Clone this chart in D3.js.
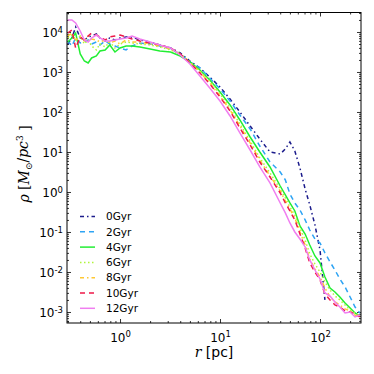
<!DOCTYPE html>
<html>
<head>
<meta charset="utf-8">
<script src="https://cdn.jsdelivr.net/npm/d3@7"></script>
<style>
	body { margin: 0; background: #fff; }
	text { font-family: "DejaVu Sans", sans-serif; fill: #000; }
</style>
</head>
<body>
<div id="chart"></div>
<script>
// radius bins shared by every snapshot (pc)
const radius = [0.30, 0.33, 0.36, 0.40, 0.44, 0.48, 0.52, 0.58, 0.63, 0.71,
	0.79, 0.89, 1.0, 1.15, 1.32, 1.58, 2.0, 2.5, 3.2, 4.0,
	5.0, 6.3, 7.9, 10, 12.6, 15.8, 20, 25, 31.6, 40,
	45, 50, 56, 63, 71, 79, 89, 100, 112, 126,
	141, 158, 178, 200, 224, 250];

// density (Msun/pc^3)
const rho0Gyr = [5010, 7080, 13300, 7080, 6310, 7500, 7940, 8910, 7080, 5960,
	7080, 6310, 7080, 7500, 7500, 6310, 5620, 4730, 3980, 2990,
	1880, 1260, 750, 422, 211, 100, 44.7, 21.1, 10, 8.91,
	11.9, 17.8, 10.6, 3.98, 1.19, 0.473, 0.150, 0.0355, 0.002, null,
	null, null, null, null, null, null];
const rho2Gyr = [5960, 4470, 7080, 5310, 5620, 6310, 5010, 5620, 4730, 5960,
	5010, 4470, 3980, 3550, 4470, 5310, 5010, 4470, 3760, 2820,
	1780, 1260, 708, 376, 188, 84.1, 37.6, 14.1, 5.62, 3.16,
	2.00, 0.891, 0.531, 0.355, 0.200, 0.112, 0.0668, 0.0531, 0.0299, 0.0178,
	0.0112, 0.00668, 0.00422, 0.00237, 0.00133, 0.000944];
const rho4Gyr = [5620, 7080, 9440, 2820, 1880, 1680, 2240, 2510, 3350, 3550,
	4730, 3160, 3980, 4470, 4470, 4220, 3760, 3350, 3160, 2510,
	1780, 1120, 631, 316, 150, 63.1, 23.7, 10, 4.22, 1.41,
	0.841, 0.531, 0.335, 0.141, 0.0891, 0.0473, 0.0251, 0.0168, 0.0075, 0.00398,
	0.00316, 0.00237, 0.00168, 0.00126, 0.000944, 0.000794];
const rho6Gyr = [7080, 8410, 6310, 7940, 5010, 6310, 4470, 3550, 5010, 4220,
	5620, 3980, 5010, 5620, 5310, 5010, 4730, 4220, 3550, 2820,
	1780, 1060, 596, 282, 126, 50.1, 18.8, 7.08, 2.99, 1.19,
	0.708, 0.422, 0.266, 0.126, 0.0631, 0.0282, 0.0158, 0.01, 0.00562, 0.00355,
	0.00251, 0.002, 0.0015, 0.00112, 0.000944, 0.000794];
const rho8Gyr = [7940, 9440, 6310, 7500, 5960, 7940, 6680, 6310, 5620, 6310,
	5310, 5960, 5010, 6310, 5620, 5620, 5010, 4470, 3760, 2820,
	1680, 1000, 531, 251, 112, 44.7, 16.8, 6.31, 2.51, 1.06,
	0.596, 0.376, 0.224, 0.1, 0.0473, 0.0211, 0.0119, 0.0075, 0.00398, 0.00237,
	0.00178, 0.0015, 0.00119, 0.00106, 0.000841, 0.00075];
const rho10Gyr = [9440, 11200, 3980, 7500, 6310, 7940, 9440, 8410, 7500, 6310,
	7500, 7940, 8410, 7500, 6680, 5960, 5310, 4730, 3980, 2820,
	1680, 944, 501, 237, 106, 39.8, 15.0, 5.62, 2.37, 0.944,
	0.531, 0.335, 0.2, 0.0891, 0.0398, 0.0168, 0.01, 0.00631, 0.00282, 0.002,
	0.0015, 0.00133, 0.00106, 0.001, 0.00089, 0.00075];
const rho12Gyr = [20000, 20000, 16800, 10600, 6310, 5620, 7080, 8410, 7080, 5960,
	5960, 6310, 6680, 7080, 7940, 6680, 5620, 4730, 3980, 2660,
	1580, 794, 398, 188, 79.4, 29.9, 11.2, 4.22, 1.68, 0.531,
	0.299, 0.168, 0.1, 0.0668, 0.0422, 0.02, 0.0112, 0.00668, 0.00299, 0.00251,
	0.00178, 0.00133, 0.000944, 0.001, 0.00075, 0.000841];

const seriesNames = ["0Gyr", "2Gyr", "4Gyr", "6Gyr", "8Gyr", "10Gyr", "12Gyr"];
const seriesValues = [rho0Gyr, rho2Gyr, rho4Gyr, rho6Gyr, rho8Gyr, rho10Gyr, rho12Gyr];
const seriesColors = ["#1c1c8c", "#2ea4f4", "#22ee33", "#b0f53a", "#ffc833", "#ee1848", "#f07ef0"];
const seriesDash = ["4,3,1.5,3", "5,4", null, "1.5,2.5", "4,3,1.5,3", "5,4", null];

const xMajor = [1, 10, 100];
const yMajor = [1e-3, 1e-2, 1e-1, 1, 10, 100, 1e3, 1e4];

const W = 374, H = 374,
	margin = {top: 12.5, right: 13, bottom: 51, left: 67},
	width = W - margin.left - margin.right,
	height = H - margin.top - margin.bottom;

const x = d3.scaleLog().domain([0.295, 257]).range([0, width]);
const y = d3.scaleLog().domain([5.3e-4, 3.07e4]).range([height, 0]);

const svg = d3.select("#chart").append("svg")
	.attr("width", W)
	.attr("height", H);

const chart = svg.append("g")
	.attr("transform", "translate(" + margin.left + "," + margin.top + ")");

chart.append("clipPath").attr("id", "clip")
	.append("rect").attr("width", width).attr("height", height);

// minor ticks = all log ticks that are not powers of ten
const xMinor = x.ticks().filter(d => xMajor.indexOf(d) < 0);
const yMinor = y.ticks().filter(d => !yMajor.some(m => Math.abs(m - d) / m < 1e-6));

function supLabel(sel) {
	// turn the tick text into 10 with a raised exponent
	sel.each(function (d) {
		const e = Math.round(Math.log10(d));
		const t = d3.select(this).text("10");
		t.append("tspan").attr("dy", "-0.5em").style("font-size", "8.5px").text(e);
	});
}

function axisPair(gen, cls, transform, major, minor, labels) {
	const gMaj = chart.append("g").attr("class", cls).attr("transform", transform)
		.call(gen.tickValues(major).tickSizeInner(-4).tickSizeOuter(0).tickPadding(6));
	const gMin = chart.append("g").attr("class", cls).attr("transform", transform)
		.call(gen.tickValues(minor).tickSizeInner(-2).tickSizeOuter(0).tickFormat(""));
	gMin.selectAll("text").remove();
	[gMaj, gMin].forEach(g => {
		g.select(".domain").remove();
		g.selectAll(".tick line").attr("stroke", "#000").attr("stroke-width", 0.8);
	});
	if (labels) {
		gMaj.selectAll("text").style("font-size", "12px").call(supLabel);
	} else {
		gMaj.selectAll("text").remove();
	}
	return gMaj;
}

const xb = axisPair(d3.axisBottom(x), "xaxis", "translate(0," + height + ")", xMajor, xMinor, true);
xb.selectAll("text").attr("dy", "1.05em");
axisPair(d3.axisTop(x), "xaxis-top", "translate(0,0)", xMajor, xMinor, false);
const yl = axisPair(d3.axisLeft(y), "yaxis", "translate(0,0)", yMajor, yMinor, true);
yl.selectAll("text").attr("dy", "0.4em").attr("x", -4);
axisPair(d3.axisRight(y), "yaxis-right", "translate(" + width + ",0)", yMajor, yMinor, false);

// profiles
const line = d3.line()
	.defined(d => d[1] != null)
	.x(d => x(d[0]))
	.y(d => y(d[1]));

const plot = chart.append("g").attr("clip-path", "url(#clip)");
seriesValues.forEach((vals, i) => {
	plot.append("path")
		.datum(radius.map((r, k) => [r, vals[k]]))
		.attr("fill", "none")
		.attr("stroke", seriesColors[i])
		.attr("stroke-width", 1.5)
		.attr("stroke-dasharray", seriesDash[i])
		.attr("d", line);
});

// frame
chart.append("rect")
	.attr("width", width).attr("height", height)
	.attr("fill", "none").attr("stroke", "#000").attr("stroke-width", 1);

// legend
const legend = chart.append("g").attr("transform", "translate(13,204)");
seriesNames.forEach((name, i) => {
	const row = legend.append("g").attr("transform", "translate(0," + (i * 15.3) + ")");
	row.append("line")
		.attr("x1", 0).attr("x2", 15)
		.attr("stroke", seriesColors[i])
		.attr("stroke-width", 1.5)
		.attr("stroke-dasharray", seriesDash[i]);
	row.append("text").attr("x", 26).attr("dy", "0.36em")
		.style("font-size", "10.5px").text(name);
});

// axis titles
const serif = "'DejaVu Serif', serif";
const xt = svg.append("text")
	.attr("x", margin.left + width / 2).attr("y", 357)
	.attr("text-anchor", "middle").style("font-size", "14px");
xt.append("tspan").style("font-family", serif).style("font-style", "italic").text("r");
xt.append("tspan").text(" [pc]");

const yt = svg.append("text")
	.attr("transform", "translate(29,164) rotate(-90)")
	.attr("text-anchor", "middle").style("font-size", "14px")
	.style("font-family", serif);
yt.append("tspan").style("font-style", "italic").text("ρ");
yt.append("tspan").text(" [");
yt.append("tspan").style("font-style", "italic").text("M");
yt.append("tspan").attr("dy", "0.3em").style("font-size", "9px").text("⊙");
yt.append("tspan").attr("dy", "-0.3em").text("/");
yt.append("tspan").style("font-style", "italic").text("pc");
yt.append("tspan").attr("dy", "-0.5em").style("font-size", "9px").text("3");
yt.append("tspan").attr("dy", "0.5em").text(" ]");
</script>
</body>
</html>
